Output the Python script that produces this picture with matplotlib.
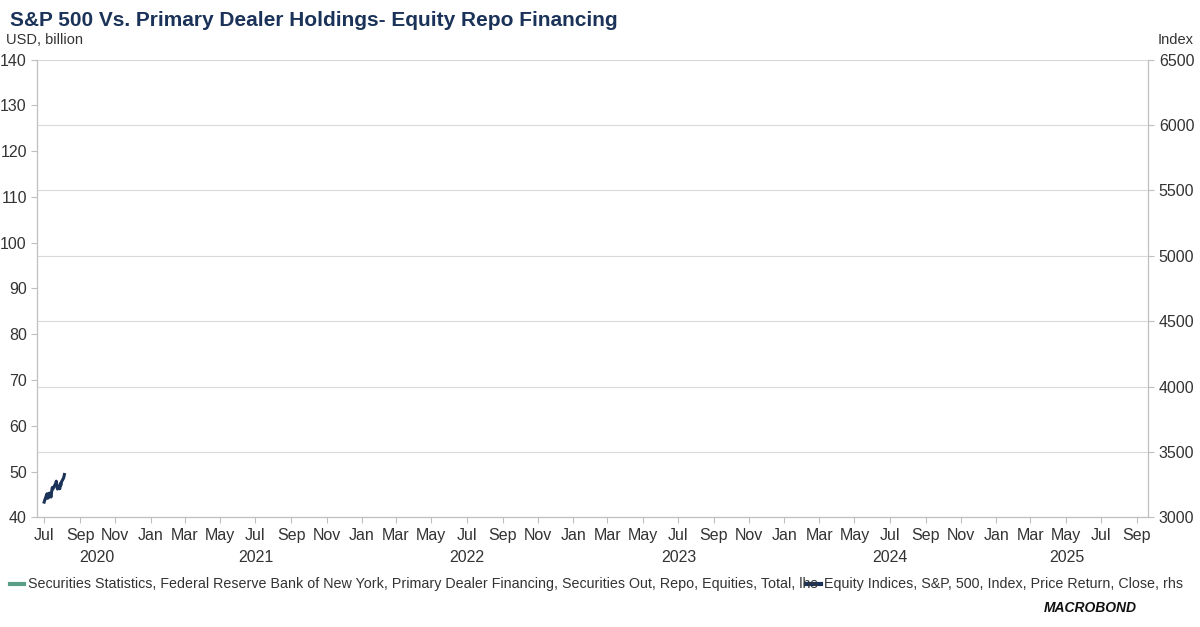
import matplotlib
matplotlib.use("Agg")
import matplotlib.pyplot as plt
import matplotlib.dates as mdates
import pandas as pd

plt.rcParams["font.family"] = "Liberation Sans"

navy = "#1b3358"
green = "#5b9e8a"

# S&P 500 closes, Jul - early Aug 2020
spx_dates = pd.to_datetime([
    "2020-07-01", "2020-07-02", "2020-07-06", "2020-07-07", "2020-07-08", "2020-07-09",
    "2020-07-10", "2020-07-13", "2020-07-14", "2020-07-15", "2020-07-16", "2020-07-17",
    "2020-07-20", "2020-07-21", "2020-07-22", "2020-07-23", "2020-07-24", "2020-07-27",
    "2020-07-28", "2020-07-29", "2020-07-30", "2020-07-31", "2020-08-03", "2020-08-04",
    "2020-08-05"])
spx_values = [3116, 3130, 3180, 3145, 3169, 3152, 3185, 3155, 3197, 3227, 3216, 3225,
              3251, 3257, 3276, 3236, 3216, 3239, 3218, 3258, 3246, 3271, 3295, 3306, 3327]

left_ticks = [40, 50, 60, 70, 80, 90, 100, 110, 120, 130, 140]
right_ticks = [3000, 3500, 4000, 4500, 5000, 5500, 6000, 6500]
years = [2020, 2021, 2022, 2023, 2024, 2025]

fig = plt.figure(figsize=(12, 6.27), dpi=100)
ax = fig.add_axes([0.031, 0.175, 0.926, 0.73])
ax2 = ax.twinx()

xmin, xmax = pd.Timestamp("2020-06-19"), pd.Timestamp("2025-09-21")
ax.set_xlim(xmin, xmax)
ax.set_ylim(40, 140)
ax.set_yticks(left_ticks)
ax2.set_ylim(3000, 6500)
ax2.set_yticks(right_ticks)
ax2.plot(spx_dates, spx_values, color=navy, lw=2.2)
ax2.grid(axis="y", color="#d9d9d9", lw=0.8)
ax2.set_axisbelow(True)

for a in (ax, ax2):
    a.spines["top"].set_visible(False)
    for s in ("left", "right", "bottom"):
        a.spines[s].set_color("#bfbfbf")
    a.tick_params(colors="#bfbfbf", labelcolor="#333333", labelsize=11.5, length=4)

ax.xaxis.set_major_locator(mdates.MonthLocator(bymonth=[1, 3, 5, 7, 9, 11]))
ax.xaxis.set_major_formatter(mdates.DateFormatter("%b"))
for y in years:
    a0 = max(pd.Timestamp(f"{y}-01-01"), pd.Timestamp("2020-07-01"))
    a1 = min(pd.Timestamp(f"{y}-12-31"), pd.Timestamp("2025-09-01"))
    mid = a0 + (a1 - a0) / 2
    ax.text(mdates.date2num(mid), -0.072, str(y), transform=ax.get_xaxis_transform(),
            ha="center", va="top", fontsize=11.5, color="#333333")

fig.text(0.008, 0.968, "S&P 500 Vs. Primary Dealer Holdings- Equity Repo Financing",
         fontsize=15, fontweight="bold", color=navy, va="center")
fig.text(0.005, 0.936, "USD, billion", fontsize=10.5, color="#333333", va="center")
fig.text(0.995, 0.936, "Index", fontsize=10.5, color="#333333", va="center", ha="right")

# legend
fig.add_artist(plt.Line2D([0.008, 0.02], [0.068, 0.068], color=green, lw=3))
fig.text(0.023, 0.068, "Securities Statistics, Federal Reserve Bank of New York, Primary Dealer Financing, "
         "Securities Out, Repo, Equities, Total, lhs", fontsize=10.3, color="#333333", va="center")
fig.add_artist(plt.Line2D([0.672, 0.684], [0.068, 0.068], color=navy, lw=3))
fig.text(0.687, 0.068, "Equity Indices, S&P, 500, Index, Price Return, Close, rhs",
         fontsize=10.3, color="#333333", va="center")
fig.text(0.947, 0.03, "MACROBOND", fontsize=10, fontweight="bold", color="#111111",
         va="center", ha="right", style="italic")

fig.savefig("out.png", dpi=100)
